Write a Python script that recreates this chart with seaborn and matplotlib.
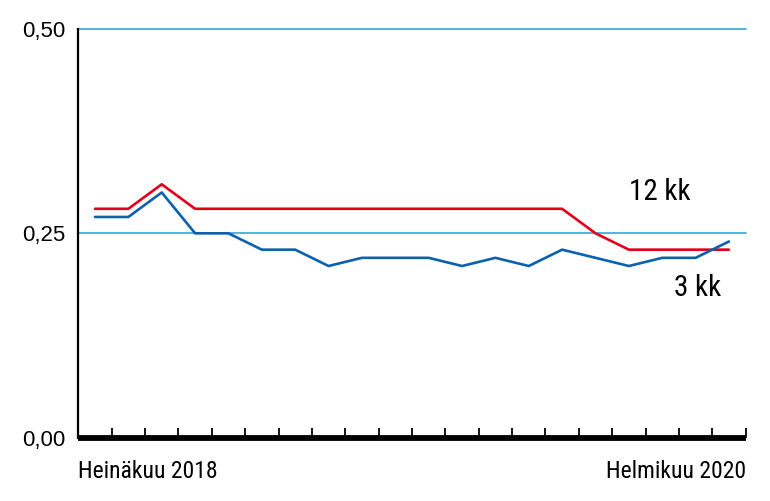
import pandas as pd
import matplotlib
matplotlib.use("Agg")
import matplotlib.pyplot as plt
import matplotlib.transforms as mtransforms
import seaborn as sns

months = ["2018-07", "2018-08", "2018-09", "2018-10", "2018-11", "2018-12",
          "2019-01", "2019-02", "2019-03", "2019-04", "2019-05", "2019-06",
          "2019-07", "2019-08", "2019-09", "2019-10", "2019-11", "2019-12",
          "2020-01", "2020-02"]
euribor_12 = [0.28, 0.28, 0.31, 0.28, 0.28, 0.28, 0.28, 0.28, 0.28, 0.28,
              0.28, 0.28, 0.28, 0.28, 0.28, 0.25, 0.23, 0.23, 0.23, 0.23]
euribor_3 = [0.27, 0.27, 0.30, 0.25, 0.25, 0.23, 0.23, 0.21, 0.22, 0.22,
             0.22, 0.21, 0.22, 0.21, 0.23, 0.22, 0.21, 0.22, 0.22, 0.24]
y_ticks = [0.0, 0.25, 0.5]
y_labels = ["0,00", "0,25", "0,50"]
first_label = "Heinäkuu 2018"
last_label = "Helmikuu 2020"

df = pd.DataFrame({"idx": range(len(months)), "kk12": euribor_12, "kk3": euribor_3})

sns.set_style("white")
narrow = ["Roboto Condensed", "Liberation Sans", "DejaVu Sans"]
plt.rcParams["font.family"] = ["Liberation Sans", "DejaVu Sans"]
plt.rcParams["text.color"] = "black"
plt.rcParams["ytick.color"] = "black"
plt.rcParams["xtick.color"] = "black"

fig = plt.figure(figsize=(7.7, 5.01), dpi=100)
ax = fig.add_axes([0.1017, 0.1265, 0.8667, 0.8156])

ax.set_ylim(0, 0.5)
ax.set_xlim(-0.5, len(months) - 0.5)
for y in y_ticks[1:]:
    ax.axhline(y, color="#2aa9e0", lw=1.2, zorder=1, clip_on=False)

sns.lineplot(data=df, x="idx", y="kk12", color="#e2001a", lw=1.9, ax=ax, zorder=3)
sns.lineplot(data=df, x="idx", y="kk3", color="#0a62ae", lw=1.9, ax=ax, zorder=3)

ax.set_xlabel("")
ax.set_ylabel("")
ax.set_yticks(y_ticks)
ax.set_yticklabels(y_labels, fontsize=16)
ax.tick_params(axis="y", left=False, length=0, pad=9, labelcolor="black")
ax.set_xticks([i + 0.5 for i in range(len(months))])
ax.set_xticklabels([])
ax.tick_params(axis="x", bottom=True, direction="in", length=7, width=1.3, color="black")

for s in ["top", "right"]:
    ax.spines[s].set_visible(False)
ax.spines["left"].set_color("black")
ax.spines["left"].set_linewidth(1.6)
ax.spines["bottom"].set_color("black")
ax.spines["bottom"].set_linewidth(4.2)
ax.spines["bottom"].set_capstyle("butt")

trans = mtransforms.offset_copy(ax.transAxes, fig=fig, x=0, y=-40.5, units="dots")
ax.text(0, 0, first_label, transform=trans, ha="left", va="baseline",
        fontsize=17, family=narrow)
ax.text(1, 0, last_label, transform=trans, ha="right", va="baseline",
        fontsize=17, family=narrow)

ax.text(16.93, 0.301, "12 kk", ha="center", va="center", fontsize=21, family=narrow)
ax.text(18.07, 0.183, "3 kk", ha="center", va="center", fontsize=21, family=narrow)

fig.savefig("out.png", dpi=100)
